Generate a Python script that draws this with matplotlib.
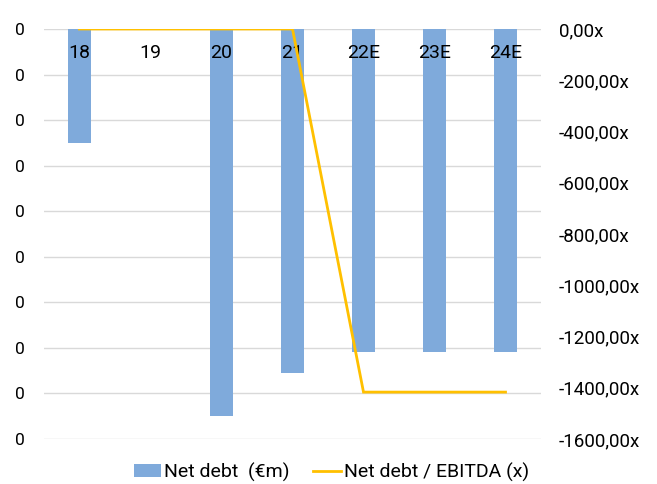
import matplotlib.pyplot as plt
import matplotlib.transforms as mtransforms
import numpy as np

plt.rcParams['font.family'] = ['Roboto', 'DejaVu Sans']

years = ['18', '19', '20', '21', '22E', '23E', '24E']
net_debt = [-0.25, 0.0, -0.85, -0.755, -0.71, -0.71, -0.71]
debt_to_ebitda = [0.0, 0.0, 0.0, 0.0, -1417.0, -1417.0, -1417.0]

bar_color = '#7faadb'
line_color = '#ffc000'
grid_color = '#d9d9d9'

fig = plt.figure(figsize=(6.57, 4.84), dpi=100)
ax = fig.add_axes([44 / 657, 1 - 439 / 484, (541 - 44) / 657, (439 - 29) / 484])
ax2 = ax.twinx()

x = np.arange(len(years))
bars = ax.bar(x, net_debt, width=0.32, color=bar_color, zorder=2,
              label='Net debt  (€m)')
line, = ax2.plot(x, debt_to_ebitda, color=line_color, lw=2.0,
                 solid_joinstyle='miter', zorder=3,
                 label='Net debt / EBITDA (x)')

# left axis: gridlines every 0.1, labels rounded to whole units
ax.set_xlim(-0.5, len(years) - 0.5)
ax.set_ylim(-0.9, 0)
left_ticks = np.linspace(0, -0.9, 10)
ax.set_yticks(left_ticks)
ax.set_yticklabels(['0'] * len(left_ticks))
ax.yaxis.grid(True, color=grid_color, lw=1.0, zorder=0)
ax.set_axisbelow(True)

ax2.set_ylim(-1600, 0)
right_ticks = np.arange(0, -1601, -200)
ax2.set_yticks(right_ticks)
ax2.set_yticklabels([f'{v:.2f}'.replace('.', ',') + 'x' for v in right_ticks])

# category labels sit just under the zero line, on top of the bars
ax.set_xticks([])
trans = mtransforms.blended_transform_factory(ax.transData, ax.transAxes)
for xi, lab in zip(x, years):
    ax.text(xi, 1 - 24 / 410, lab, transform=trans, ha='center', va='center',
            fontsize=14, zorder=5)

ax.tick_params(axis='y', length=0, labelsize=12.5, pad=14)
ax2.tick_params(axis='y', length=0, labelsize=13.5, pad=13)

for a in (ax, ax2):
    for s in a.spines.values():
        s.set_visible(False)

fig.legend(handles=[bars, line], loc='center', bbox_to_anchor=(0.504, 1 - 472 / 484),
           ncol=2, frameon=False, fontsize=14, handlelength=1.4,
           handletextpad=0.15, columnspacing=1.25, borderaxespad=0)

fig.savefig('out.png', dpi=100)
